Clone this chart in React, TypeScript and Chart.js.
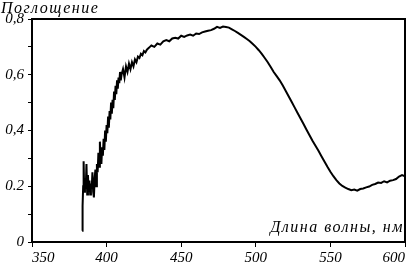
import React, { useEffect, useRef } from "react";
import { Chart, registerables } from "chart.js";

Chart.register(...registerables);

const wavelengths = [
  383.6, 383.8, 384.0, 384.3, 384.6, 385.0, 385.5, 386.0, 386.5, 387.0, 387.5, 388.0, 388.5, 389.0, 389.5,
  390.0, 390.5, 391.0, 391.5, 392.0, 392.5, 393.0, 393.5, 394.0, 394.5, 395.0, 395.5, 396.0, 396.5, 397.0,
  397.5, 398.0, 398.5, 399.0, 399.5, 400.0, 400.5, 401.0, 401.5, 402.0, 402.5, 403.0, 403.5, 404.0, 404.5,
  405.0, 405.5, 406.0, 406.5, 407.0, 407.5, 408.0, 408.5, 409.0, 409.5, 410.0,
  411, 412, 413, 414, 415, 416, 417, 418, 419, 420, 421, 422, 423, 424, 425, 426, 427, 428, 429, 430,
  432, 434, 436, 438, 440, 442, 444, 446, 448, 450, 452, 454, 456, 458, 460, 462, 464, 466, 468, 470,
  472, 474, 476, 478, 480, 482, 484, 486, 488, 490, 492, 494, 496, 498, 500, 502, 504, 506, 508, 510,
  512, 514, 516, 518, 520, 522, 524, 526, 528, 530, 532, 534, 536, 538, 540, 542, 544, 546, 548, 550,
  552, 554, 556, 558, 560, 562, 564, 566, 568, 570, 572, 574, 576, 578, 580, 582, 584, 586, 588, 590,
  592, 594, 596, 598, 600,
];

const absorbance = [
  0.04, 0.09, 0.13, 0.2, 0.29, 0.18, 0.23, 0.19, 0.28, 0.17, 0.24, 0.18, 0.22, 0.17, 0.21,
  0.19, 0.25, 0.18, 0.16, 0.23, 0.26, 0.2, 0.28, 0.25, 0.32, 0.27, 0.36, 0.3, 0.28, 0.34,
  0.31, 0.37, 0.33, 0.4, 0.36, 0.42, 0.39, 0.45, 0.41, 0.47, 0.44, 0.5, 0.46, 0.51, 0.48,
  0.54, 0.51, 0.56, 0.53, 0.58, 0.55, 0.59, 0.57, 0.61, 0.58, 0.6,
  0.62, 0.59, 0.63, 0.61, 0.64, 0.62, 0.645, 0.63, 0.655, 0.645, 0.665, 0.66, 0.675, 0.67, 0.685, 0.68, 0.69, 0.695, 0.7, 0.705,
  0.7, 0.712, 0.708, 0.72, 0.724, 0.72, 0.73, 0.733, 0.73, 0.74, 0.736, 0.741, 0.744, 0.74, 0.748, 0.746, 0.752, 0.755, 0.758, 0.76,
  0.765, 0.772, 0.768, 0.773, 0.771, 0.769, 0.763, 0.757, 0.75, 0.743, 0.736, 0.728, 0.72, 0.71, 0.7, 0.688, 0.675, 0.66, 0.645, 0.628,
  0.61, 0.595, 0.58, 0.562, 0.543, 0.523, 0.503, 0.483, 0.463, 0.443, 0.423, 0.403, 0.383, 0.363, 0.345, 0.327, 0.308, 0.289, 0.27, 0.252,
  0.236, 0.222, 0.21, 0.201, 0.195, 0.19, 0.186, 0.188, 0.184, 0.19, 0.192, 0.196, 0.199, 0.205, 0.208, 0.213, 0.212, 0.218, 0.214, 0.22,
  0.222, 0.226, 0.235, 0.24, 0.236,
];

const yTickLabels: Record<string, string> = {
  "0": "0",
  "0.2": "0.2",
  "0.4": "0,4",
  "0.6": "0,6",
  "0.8": "0,8",
};
const xTickValues = [350, 400, 450, 500, 550, 600];
const yTitle = "Поглощение";
const xTitle = "Длина волны, нм";

const FONT = "'Liberation Serif', 'DejaVu Serif', serif";

export default function App() {
  const ref = useRef<HTMLCanvasElement | null>(null);

  useEffect(() => {
    document.body.style.margin = "0";
    const canvas = ref.current;
    if (!canvas) return;

    const framePlugin = {
      id: "frame",
      afterDraw(chart: any) {
        const { ctx, chartArea } = chart;
        ctx.save();
        ctx.strokeStyle = "#000";
        ctx.lineWidth = 2;
        ctx.strokeRect(chartArea.left, chartArea.top, chartArea.right - chartArea.left, chartArea.bottom - chartArea.top);
        ctx.fillStyle = "#000";
        ctx.font = `italic 16px ${FONT}`;
        (ctx as any).letterSpacing = "1.5px";
        ctx.textBaseline = "alphabetic";
        ctx.textAlign = "left";
        ctx.fillText(yTitle, 1, 13);
        ctx.textAlign = "right";
        ctx.fillText(xTitle, chartArea.right - 1, 232);
        ctx.restore();
      },
    };

    const chart = new Chart(canvas, {
      type: "line",
      data: {
        datasets: [
          {
            data: wavelengths.map((w, i) => ({ x: w, y: absorbance[i] })),
            borderColor: "#000",
            borderWidth: 2,
            pointRadius: 0,
            tension: 0,
            fill: false,
          },
        ],
      },
      options: {
        responsive: false,
        animation: false,
        layout: { padding: { top: 19, right: 2, left: 0, bottom: 0 } },
        plugins: { legend: { display: false }, tooltip: { enabled: false } },
        scales: {
          x: {
            type: "linear",
            min: 350,
            max: 600,
            afterBuildTicks(scale: any) {
              scale.ticks = xTickValues.map((v) => ({ value: v }));
            },
            afterFit(scale: any) {
              scale.height = 22;
              scale.paddingLeft = 0;
              scale.paddingRight = 0;
            },
            grid: { display: true, drawOnChartArea: false, drawTicks: true, tickLength: 5, color: "#000", lineWidth: 1 },
            border: { display: true, color: "#000", width: 2 },
            ticks: {
              color: "#000",
              font: { family: FONT, style: "italic", size: 15 },
              padding: 2,
              maxRotation: 0,
              autoSkip: false,
              align: "inner",
              callback: (v: any) => String(v),
            },
          },
          y: {
            type: "linear",
            min: 0,
            max: 0.8,
            afterBuildTicks(scale: any) {
              const t = [];
              for (let i = 0; i <= 8; i++) t.push({ value: i / 10 });
              scale.ticks = t;
            },
            afterFit(scale: any) {
              scale.width = 32;
              scale.paddingTop = 0;
              scale.paddingBottom = 0;
            },
            grid: { display: true, drawOnChartArea: false, drawTicks: true, tickLength: 4, color: "#000", lineWidth: 1 },
            border: { display: true, color: "#000", width: 2 },
            ticks: {
              color: "#000",
              font: { family: FONT, style: "italic", size: 15 },
              padding: 4,
              autoSkip: false,
              callback: (v: any) => {
                const key = String(Math.round(Number(v) * 10) / 10);
                return yTickLabels[key] ?? "";
              },
            },
          },
        },
      },
      plugins: [framePlugin],
    });

    return () => chart.destroy();
  }, []);

  return (
    <div style={{ width: 407, height: 264, background: "#fff" }}>
      <canvas ref={ref} width={407} height={264} style={{ display: "block" }} />
    </div>
  );
}
